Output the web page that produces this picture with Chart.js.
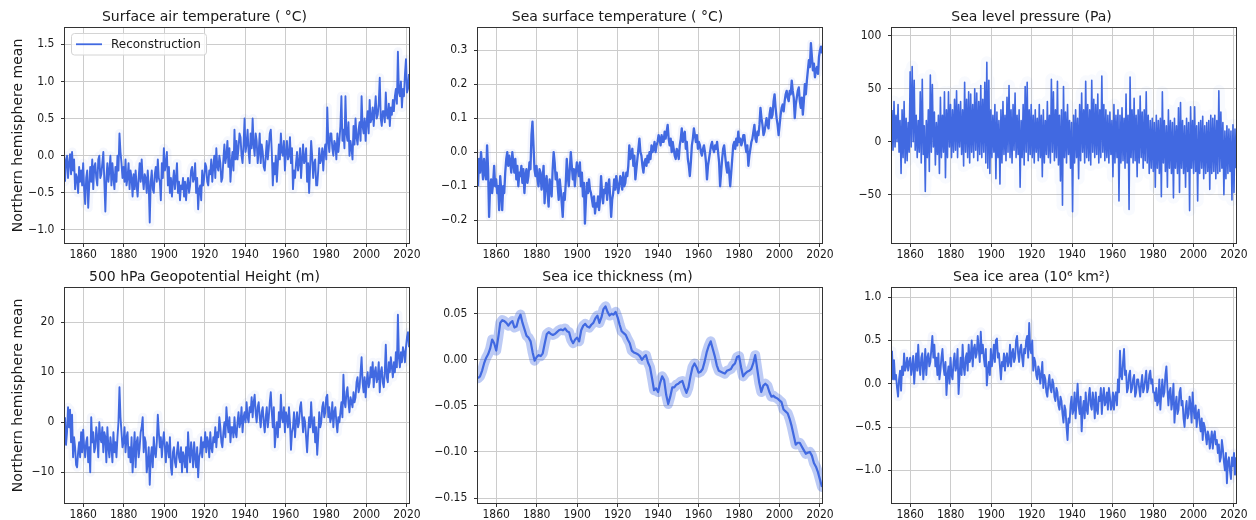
<!DOCTYPE html>
<html>
<head>
<meta charset="utf-8">
<title>Northern hemisphere mean reconstructions</title>
<script src="https://cdn.jsdelivr.net/npm/chart.js@4.4.1/dist/chart.umd.min.js"></script>
<style>
  html, body { margin: 0; padding: 0; background: #ffffff; }
  #figure { position: relative; width: 1256px; height: 520px; overflow: hidden; background: #ffffff; }
  #figure canvas { position: absolute; }
</style>
</head>
<body>
<div id="figure">
  <canvas id="sat"  width="429" height="260" style="left:0px;top:0px"></canvas>
  <canvas id="sst"  width="429" height="260" style="left:413px;top:0px"></canvas>
  <canvas id="slp"  width="429" height="260" style="left:827px;top:0px"></canvas>
  <canvas id="z500" width="429" height="260" style="left:0px;top:260px"></canvas>
  <canvas id="sit"  width="429" height="260" style="left:413px;top:260px"></canvas>
  <canvas id="sia"  width="429" height="260" style="left:827px;top:260px"></canvas>
</div>
<script>
// Time span covered by every series (values are spread evenly over it)
const firstYear = 1851;
const lastYear = 2021;
const yearTicks = [1860, 1880, 1900, 1920, 1940, 1960, 1980, 2000, 2020];

const seriesLabel = 'Reconstruction';
const yAxisLabel = 'Northern hemisphere mean';

// Y tick values per panel
const satTicks = [-1.0, -0.5, 0.0, 0.5, 1.0, 1.5];
const sstTicks = [-0.2, -0.1, 0.0, 0.1, 0.2, 0.3];
const slpTicks = [-50, 0, 50, 100];
const z500Ticks = [-10, 0, 10, 20];
const thicknessTicks = [-0.15, -0.10, -0.05, 0.00, 0.05];
const areaTicks = [-1.0, -0.5, 0.0, 0.5, 1.0];

// Surface air temperature (°C), two values per year, 1851-2021
const surfaceAirTemp = [
  -0.35,-0.05, 0.0,-0.3, -0.1,0.02, -0.25,0.05, -0.2,-0.05, -0.45,-0.25, -0.3,-0.5, -0.15,-0.35, -0.2,-0.4, -0.1,-0.45,
  -0.65,-0.3, -0.2,-0.7, -0.4,-0.15, -0.35,-0.05, -0.45,-0.15, -0.1,-0.3, -0.4,-0.05, 0.0,-0.3, -0.25,-0.1, 0.05,-0.35,
  -0.75,-0.3, -0.1,-0.35, -0.2,0.0, -0.4,-0.1, -0.3,-0.45, -0.15,-0.35, 0.0,-0.2, 0.3,0.05, -0.1,-0.3, -0.15,-0.35,
  -0.05,-0.4, -0.3,-0.1, -0.45,-0.2, -0.3,-0.55, -0.25,-0.45, -0.2,-0.4, -0.55,-0.3, -0.1,-0.35, -0.05,-0.3, -0.45,-0.25,
  -0.3,-0.5, -0.2,-0.4, -0.9,-0.35, -0.2,-0.45, -0.5,-0.25, -0.15,-0.35, -0.05,-0.3, -0.35,-0.6, -0.1,-0.3, 0.1,-0.2,
  -0.1,0.05, -0.4,-0.15, -0.5,-0.3, -0.55,-0.35, -0.2,-0.45, -0.3,-0.1, -0.5,-0.35, -0.6,-0.4, -0.45,-0.3, -0.55,-0.35,
  -0.6,-0.4, -0.3,-0.5, -0.4,-0.2, -0.15,-0.35, -0.3,-0.1, -0.5,-0.3, -0.72,-0.45, -0.4,-0.6, -0.2,-0.4, -0.3,-0.1,
  -0.15,-0.35, -0.4,-0.2, -0.25,-0.05, -0.35,-0.15, 0.0,-0.3, 0.1,-0.15, -0.2,0.0, -0.1,-0.35, -0.3,-0.05, 0.15,-0.1,
  0.0,0.2, -0.15,0.1, -0.35,-0.1, 0.05,-0.2, 0.35,-0.05, 0.2,-0.05, 0.1,0.3, 0.25,0.0, -0.1,0.15, 0.5,0.05,
  0.15,0.35, 0.05,-0.1, 0.3,0.1, 0.5,0.15, 0.0,0.3, 0.2,-0.1, 0.05,0.3, -0.1,0.15, 0.05,-0.15, -0.2,0.0,
  0.2,-0.05, 0.1,0.3, 0.35,0.05, -0.4,-0.1, -0.25,0.0, -0.35,-0.1, 0.15,-0.05, 0.3,0.05, 0.0,0.2, -0.2,0.05,
  0.2,-0.05, 0.0,0.25, -0.1,0.1, -0.45,-0.2, -0.3,-0.1, 0.05,-0.2, -0.1,0.1, -0.3,-0.05, 0.15,-0.1, -0.05,0.1,
  -0.35,-0.1, -0.5,-0.15, 0.2,0.0, -0.3,-0.1, -0.05,-0.4, -0.4,-0.2, 0.1,-0.1, -0.05,0.1, -0.2,0.05, 0.15,-0.05,
  0.65,0.2, 0.05,0.3, 0.3,0.1, 0.0,0.2, 0.15,-0.05, 0.3,0.05, 0.2,0.4, 0.8,0.2, 0.35,0.1, 0.8,0.3,
  0.2,0.45, 0.0,0.2, 0.1,-0.05, 0.4,0.15, 0.5,0.25, 0.15,0.35, 0.45,0.2, 0.8,0.4, 0.3,0.5, 0.2,0.45,
  0.6,0.3, 0.75,0.45, 0.5,0.65, 0.4,0.6, 0.8,0.5, 0.55,0.7, 1.05,0.5, 0.4,0.6, 0.6,0.45, 0.85,0.55,
  0.5,0.7, 0.4,0.65, 0.55,0.75, 0.6,0.8, 0.9,0.7, 1.4,0.85, 0.8,1.0, 0.65,0.9, 0.8,1.1, 1.3,0.85,
  0.9,1.1
];

// Sea surface temperature (°C), two values per year
const seaSurfaceTemp = [
  -0.10,-0.02, -0.06,0.00, -0.04,-0.08, -0.02,-0.06, -0.08,0.02, -0.05,-0.19, -0.10,-0.08, -0.12,-0.09, -0.04,-0.10, -0.08,-0.12,
  -0.10,-0.17, -0.07,-0.11, -0.17,-0.10, -0.12,-0.06, -0.02,0.00, -0.04,-0.01, -0.03,-0.06, 0.00,-0.03, -0.06,-0.02, -0.08,-0.04,
  -0.10,-0.06, -0.07,-0.04, -0.09,-0.05, -0.12,-0.07, -0.05,-0.09, -0.07,-0.03, -0.05,0.05, 0.09,0.02, -0.05,-0.07, -0.04,-0.08,
  -0.10,-0.05, -0.06,-0.11, -0.08,-0.04, -0.15,-0.09, -0.07,-0.12, -0.16,-0.08, -0.10,-0.13, -0.05,0.00, -0.03,-0.08, -0.06,-0.10,
  -0.14,-0.08, -0.11,-0.15, -0.19,-0.12, -0.14,-0.09, -0.02,-0.07, -0.10,-0.05, 0.00,-0.04, -0.08,-0.05, -0.10,-0.06, -0.03,-0.05,
  -0.07,-0.03, -0.10,-0.06, -0.13,-0.09, -0.21,-0.14, -0.09,-0.12, -0.08,-0.11, -0.12,-0.14, -0.16,-0.13, -0.18,-0.15, -0.16,-0.13,
  -0.17,-0.14, -0.07,-0.12, -0.15,-0.11, -0.12,-0.09, -0.14,-0.10, -0.08,-0.13, -0.19,-0.14, -0.12,-0.08, -0.11,-0.07, -0.09,-0.12,
  -0.10,-0.07, -0.08,-0.11, -0.06,-0.10, -0.09,-0.06, -0.07,-0.04, 0.02,-0.02, -0.01,0.01, -0.04,-0.01, -0.08,-0.05, -0.02,0.01,
  0.04,0.00, -0.01,-0.04, -0.06,-0.03, -0.02,-0.04, -0.01,-0.03, 0.00,-0.02, 0.02,0.00, 0.01,0.03, 0.00,0.02, 0.03,0.05,
  0.04,0.02, 0.05,0.03, 0.03,0.06, 0.04,0.06, 0.08,0.04, 0.02,0.04, 0.00,0.03, 0.01,-0.01, -0.02,0.01, 0.00,-0.02,
  0.02,0.04, 0.07,0.03, 0.05,0.06, 0.01,0.03, -0.02,-0.04, -0.07,-0.03, 0.02,0.04, 0.07,0.05, 0.03,0.05, 0.01,0.03,
  0.02,0.00, -0.01,0.01, 0.02,0.00, -0.03,-0.08, -0.04,-0.02, 0.00,0.02, 0.03,0.01, 0.00,0.02, 0.01,0.03, 0.00,-0.03,
  -0.10,-0.06, -0.02,0.01, 0.02,-0.01, -0.04,-0.06, -0.03,-0.06, -0.10,-0.06, -0.02,0.02, 0.03,0.01, 0.04,0.02, 0.06,0.03,
  0.04,0.02, 0.03,0.05, 0.05,0.02, 0.00,0.02, -0.04,-0.01, 0.01,0.03, 0.04,0.06, 0.08,0.04, 0.03,0.06, 0.05,0.08,
  0.13,0.10, 0.08,0.05, 0.06,0.08, 0.10,0.08, 0.07,0.11, 0.13,0.10, 0.11,0.15, 0.17,0.13, 0.10,0.08, 0.05,0.08,
  0.11,0.13, 0.14,0.12, 0.15,0.17, 0.18,0.16, 0.15,0.18, 0.17,0.21, 0.18,0.16, 0.10,0.14, 0.16,0.18, 0.19,0.15,
  0.13,0.16, 0.11,0.15, 0.20,0.17, 0.21,0.24, 0.27,0.25, 0.32,0.28, 0.24,0.26, 0.22,0.24, 0.25,0.23, 0.28,0.30,
  0.31,0.29
];

// Sea level pressure (Pa), two values per year
const seaLevelPressure = [
  30,-8, 38,-5, 25,0, 35,-10, 20,-30, 30,-15, 38,-20, 22,-18, 18,-10, 66,-5,
  71,0, 58,-8, 25,-15, 20,-10, 47,-20, 59,-12, 15,-47, 20,-15, 30,-28, 63,-10,
  54,-5, 28,-22, 18,-12, 25,-30, 42,-15, 25,-10, 47,-34, 30,-15, 47,-5, 35,-15,
  30,-10, 40,-8, 48,-15, 35,-5, 38,-12, 30,-23, 56,-10, 40,-15, 47,-20, 45,-10,
  35,-15, 50,-8, 46,-18, 38,-12, 53,-15, 40,-10, 56,-20, 75,-25, 58,-30, 30,-15,
  25,-10, 35,-35, 28,-15, 20,-40, 30,-20, 38,-12, 25,-18, 42,-10, 53,-15, 30,-20,
  35,-8, 46,-15, 25,-12, 30,-43, 20,-15, 35,-22, 52,-10, 56,-18, 30,-12, 35,-15,
  25,-20, 30,-10, 22,-18, 35,-15, 25,-33, 30,-20, 20,-12, 38,-15, 25,-20, 59,-10,
  47,-18, 30,-15, 57,-22, 25,-37, 30,-60, 52,-15, 28,-20, 35,-12, 20,-25, 18,-66,
  25,-20, 30,-15, 22,-35, 35,-18, 46,-10, 30,-20, 57,-15, 35,-18, 30,-22, 58,-10,
  40,-15, 35,-12, 45,-20, 30,-15, 62,-10, 35,-18, 30,-15, 25,-20, 28,-12, 20,-33,
  35,-20, 25,-15, 30,-56, 25,-20, 32,-18, 22,-25, 45,-20, 25,-64, 61,-15, 30,-20,
  41,-18, 25,-33, 30,-20, 43,-15, 28,-25, 30,-18, 47,-20, 25,-30, 20,-25, 22,-28,
  18,-43, 25,-25, 20,-30, 22,-52, 47,-20, 20,-28, 15,-43, 30,-25, 20,-30, 18,-53,
  22,-25, 15,-30, 32,-48, 37,-25, 20,-30, 15,-43, 22,-28, 18,-65, 33,-25, 20,-30,
  33,-28, 15,-56, 18,-30, 20,-25, 24,-35, 15,-30, 18,-28, 20,-45, 25,-30, 22,-28,
  25,-35, 20,-30, 48,-28, 28,-25, 18,-50, 10,-35, 15,-30, 12,-28, 10,-55, 16,-48,
  12,-25
];

// 500 hPa geopotential height (m), two values per year
const geopotential500 = [
  1,-4.5, -2,3, -1,2.5, -4,1.5, -7,-3, -5,-8.5, -9,-6, -4,-7, -2,-6, -1.5,-5,
  -7,-4, -3,-8, -5,-10, 1,-4, -2,-6, -5,-1, -3,-7, 0,-3, -4,-1, -6,-2,
  -3,-8, -1,-5, -7,-3, -5,-8, -2,-6, -4,-7, -3,0, 7,1, -2,-5, -4,-1,
  -6,-3, -2,-7, -5,-8, -3,-10, -6,-2, -9,-4, -3,-7, -5,-2, -1,1, -6,-3,
  -4,-10, -8,-5, -12.5,-7, -5,-9, -3,-6, -7,-4, 1.5,-2, -5,-3, -7,-4, -2,-5,
  -8,-4, -5,-7, -3,-9, -10.5,-6, -5,-8, -9,-6, -4,-7, -8,-5, -10,-6, -7,-9,
  -5,-10, -2,-6, -8,-4, -6,-9, -4,-7, -9,-5, -11,-7, -6,-3, -7,-4, -5,-2,
  -6,-3, -4,-7, -2,-5, -6,-3, -4,-1, -5,-2, -3,1, -1,-4, -5,-2, 0,-3,
  3,0, -2,1, -4,-1, -1,-3, 1,-2, -3,0, 2,-1, 0,3, -2,1, 2,0,
  4,1, 0,3, 2,5, 1,4, 5.5,2, 0,3, 4,1, -1,2, 3,0, -2,1,
  3,-1, 1,4, 6,2, -1,3, -5,-2, 0,-3, 2,-1, 5.5,1, 0,3, -2,2,
  1,-1, 3,0, -5.5,-2, -1,2, -3,0, 2,-1, 0,3, 4,1, -2,1, 0,-3,
  -6,-2, 1,-1, 4,0, -2,1, -4,-1, -6.5,-3, 2,-1, 0,3, 4,1, 2,5,
  5.5,1, 3,0, 1,4, -1,2, 3,0, -2,1, 0,2, 4,1, 9.5,4, 3,6,
  7,4, 2,5, 4,3, 6,4, 5,8, 9,6, 7,10, 13,8, 6,9, 5,8,
  10,7, 8,11, 9,12, 7,10, 11,8, 9,12, 6,10, 11,8, 7,10, 15.5,9,
  8,12, 10,13, 11,9, 12,10, 14,11, 21.5,13, 11,14, 12,15, 14,12, 15,17,
  18,15
];

// Sea ice thickness (m), one value per year
const seaIceThickness = [
  -0.020, -0.018, -0.012, -0.004, 0.002, 0.006, 0.012, 0.022, 0.018, 0.010,
  0.024, 0.040, 0.043, 0.042, 0.040, 0.037, 0.040, 0.042, 0.035, 0.036,
  0.044, 0.049, 0.040, 0.033, 0.026, 0.024, 0.020, 0.008, -0.001, 0.003,
  0.005, 0.004, 0.007, 0.018, 0.028, 0.030, 0.028, 0.027, 0.028, 0.030,
  0.032, 0.033, 0.032, 0.034, 0.031, 0.030, 0.022, 0.018, 0.022, 0.024,
  0.020, 0.032, 0.037, 0.039, 0.036, 0.035, 0.038, 0.040, 0.045, 0.048,
  0.040, 0.046, 0.055, 0.058, 0.052, 0.048, 0.050, 0.049, 0.052, 0.046,
  0.038, 0.031, 0.029, 0.027, 0.022, 0.018, 0.010, 0.008, 0.007, 0.006,
  0.004, 0.000, 0.003, 0.005, -0.003, -0.008, -0.020, -0.033, -0.031, -0.035,
  -0.025, -0.018, -0.022, -0.038, -0.048, -0.040, -0.030, -0.030, -0.027, -0.026,
  -0.024, -0.023, -0.030, -0.036, -0.030, -0.018, -0.008, -0.004, -0.008, -0.014,
  -0.013, -0.010, -0.002, 0.008, 0.015, 0.020, 0.012, 0.004, -0.006, -0.012,
  -0.013, -0.014, -0.015, -0.012, -0.011, -0.010, -0.006, -0.004, 0.003, 0.004,
  -0.008, -0.018, -0.015, -0.013, -0.012, -0.010, -0.004, 0.005, -0.010, -0.025,
  -0.035, -0.028, -0.026, -0.028, -0.035, -0.040, -0.039, -0.041, -0.042, -0.044,
  -0.046, -0.054, -0.056, -0.058, -0.064, -0.072, -0.082, -0.092, -0.090, -0.090,
  -0.094, -0.098, -0.102, -0.101, -0.100, -0.104, -0.112, -0.116, -0.122, -0.130,
  -0.138
];

// Sea ice area (10^6 km^2), two values per year
const seaIceArea = [
  0.38,0.05, 0.27,0.05, 0.1,-0.05, -0.15,0.05, 0.15,-0.08, 0.2,0.1, 0.35,0.15, 0.2,0.3, 0.15,0.25, 0.3,0.1,
  0.2,0.32, 0.0,0.2, 0.35,0.15, 0.45,0.2, 0.1,0.3, 0.35,0.05, 0.2,0.4, 0.1,0.3, 0.35,0.2, 0.25,0.4,
  0.55,0.3, 0.45,0.2, 0.3,0.1, 0.35,0.05, 0.15,0.3, 0.4,0.2, 0.1,0.25, -0.13,0.1, 0.2,0.0, 0.3,0.1,
  0.05,0.25, 0.35,0.15, 0.2,0.4, -0.12,0.1, 0.3,0.1, 0.45,0.2, 0.1,0.3, 0.35,0.15, 0.45,0.25, 0.3,0.5,
  0.2,0.4, 0.45,0.3, 0.35,0.55, 0.4,0.25, 0.6,0.35, 0.45,0.3, 0.2,0.4, -0.02,0.15, 0.25,0.1, 0.4,0.2,
  0.3,0.45, 0.25,0.5, 0.52,0.3, 0.35,0.2, 0.05,0.25, 0.2,0.35, 0.15,0.3, 0.35,0.2, 0.25,0.45, 0.2,0.35,
  0.4,0.25, 0.3,0.5, 0.55,0.35, 0.25,0.4, 0.45,0.3, 0.2,0.4, 0.35,0.5, 0.55,0.3, 0.7,0.4, 0.35,0.5,
  0.15,0.3, 0.25,0.1, 0.05,0.2, 0.15,0.0, 0.1,0.25, -0.05,0.1, 0.05,-0.1, -0.15,0.0, 0.1,-0.05, -0.1,0.05,
  0.0,-0.15, -0.2,-0.05, -0.1,-0.25, -0.3,-0.15, -0.2,-0.35, -0.45,-0.25, -0.3,-0.5, -0.65,-0.4, -0.45,-0.25, -0.15,-0.35,
  -0.3,-0.1, -0.4,-0.2, 0.0,-0.25, -0.35,-0.15, -0.55,-0.3, -0.2,-0.4, -0.1,-0.3, -0.35,-0.15, -0.05,-0.25, -0.3,-0.1,
  -0.2,-0.4, -0.1,-0.3, -0.35,-0.15, -0.2,-0.05, -0.35,-0.15, -0.05,-0.25, -0.2,-0.1, -0.3,-0.05, -0.15,-0.3, -0.25,-0.1,
  -0.3,-0.15, -0.1,-0.25, 0.05,-0.1, 0.38,0.1, 0.05,0.25, 0.4,0.1, 0.15,-0.1, -0.05,0.1, 0.15,-0.1, -0.05,0.05,
  0.1,-0.15, -0.1,0.05, 0.05,-0.05, -0.15,0.0, 0.1,-0.1, -0.05,0.05, 0.15,-0.1, -0.05,0.1, 0.15,0.0, 0.05,-0.1,
  -0.1,-0.2, -0.05,-0.25, -0.2,0.05, -0.3,-0.1, 0.05,-0.15, -0.1,0.1, 0.2,-0.05, -0.25,-0.1, -0.05,-0.3, -0.2,0.0,
  -0.45,-0.25, -0.15,-0.35, -0.3,-0.1, -0.05,-0.25, -0.2,-0.4, -0.5,-0.3, -0.2,-0.4, -0.35,-0.15, -0.25,-0.45, -0.1,-0.3,
  -0.4,-0.25, -0.5,-0.35, -0.3,-0.45, -0.55,-0.4, -0.65,-0.45, -0.5,-0.6, -0.7,-0.55, -0.6,-0.75, -0.65,-0.55, -0.75,-0.6,
  -0.55,-0.7, -0.65,-0.8, -0.7,-0.9, -0.85,-0.65, -0.75,-0.9, -1.0,-0.8, -1.15,-0.9, -0.85,-1.0, -1.1,-0.85, -0.95,-0.8,
  -1.05,-0.85
];

// ---- styling ----
const lineColor = '#4169e1';
const gridColor = '#cccccc';
const textColor = '#1a1a1a';
const tickFont = { family: "'Liberation Sans Narrow', 'DejaVu Sans Condensed', 'DejaVu Sans'", size: 12 };
const labelFont = { family: "'DejaVu Sans'", size: 14, weight: 'normal' };

Chart.defaults.font.family = "'DejaVu Sans'";

function tickText(v, decimals) {
  const s = Math.abs(v).toFixed(decimals);
  return (v < 0 ? '\u2212' : '') + s;
}

function toPoints(values) {
  const step = (lastYear - firstYear) / (values.length - 1);
  return values.map((v, i) => ({ x: firstYear + i * step, y: v }));
}

// Full box around each plotting area
const axesFrame = {
  id: 'axesFrame',
  afterDraw(chart) {
    const { ctx, chartArea: a } = chart;
    ctx.save();
    ctx.strokeStyle = '#333333';
    ctx.lineWidth = 1;
    ctx.strokeRect(a.left - 0.5, a.top - 0.5, a.right - a.left + 1, a.bottom - a.top + 1);
    ctx.restore();
  }
};

// Framed legend in the upper-left corner of the plotting area
const legendBox = {
  id: 'legendBox',
  afterDraw(chart) {
    const { ctx, chartArea: a } = chart;
    const ds = chart.data.datasets[0];
    const x = a.left + 6.5, y = a.top + 5.5, w = 135, h = 21.5;
    ctx.save();
    ctx.beginPath();
    ctx.roundRect(x, y, w, h, 3);
    ctx.fillStyle = 'rgba(255,255,255,0.8)';
    ctx.fill();
    ctx.strokeStyle = '#d4d4d4';
    ctx.lineWidth = 1;
    ctx.stroke();
    ctx.beginPath();
    ctx.moveTo(x + 4.5, y + h / 2);
    ctx.lineTo(x + 30.5, y + h / 2);
    ctx.strokeStyle = ds.borderColor;
    ctx.lineWidth = 1.8;
    ctx.stroke();
    ctx.font = "12px 'DejaVu Sans'";
    ctx.fillStyle = textColor;
    ctx.textBaseline = 'middle';
    ctx.textAlign = 'left';
    ctx.fillText(ds.label, x + 39.5, y + h / 2 + 0.5);
    ctx.restore();
  }
};

const panels = [
  { id: 'sat',  title: 'Surface air temperature ( \u00b0C)', values: surfaceAirTemp,   yMin: -1.175, yMax: 1.719,  yTicks: satTicks,       decimals: 1, lineWidth: 1.9, bandWidth: 9,  bandAlpha: 0.05, yLabel: true,  legend: true },
  { id: 'sst',  title: 'Sea surface temperature ( \u00b0C)', values: seaSurfaceTemp,   yMin: -0.2666, yMax: 0.3646, yTicks: sstTicks,      decimals: 1, lineWidth: 2.3, bandWidth: 7,  bandAlpha: 0.07 },
  { id: 'slp',  title: 'Sea level pressure (Pa)',            values: seaLevelPressure, yMin: -95.6,  yMax: 107.3,  yTicks: slpTicks,       decimals: 0, lineWidth: 1.6, bandWidth: 12, bandAlpha: 0.035 },
  { id: 'z500', title: '500 hPa Geopotential Height (m)',    values: geopotential500,  yMin: -16.14, yMax: 26.86,  yTicks: z500Ticks,      decimals: 0, lineWidth: 1.9, bandWidth: 9,  bandAlpha: 0.05, yLabel: true },
  { id: 'sit',  title: 'Sea ice thickness (m)',              values: seaIceThickness,  yMin: -0.1554, yMax: 0.0779, yTicks: thicknessTicks, decimals: 2, lineWidth: 2.2, bandWidth: 10, bandAlpha: 0.35 },
  { id: 'sia',  title: 'Sea ice area (10\u2076 km\u00b2)',   values: seaIceArea,       yMin: -1.377, yMax: 1.104,  yTicks: areaTicks,      decimals: 1, lineWidth: 1.9, bandWidth: 9,  bandAlpha: 0.06 }
];

function gridOptions() {
  return { color: gridColor, lineWidth: 1, drawTicks: true, tickLength: 4, tickColor: '#333333', tickWidth: 1 };
}

function drawPanel(p) {
  const pts = toPoints(p.values);
  const plugins = [axesFrame];
  if (p.legend) plugins.push(legendBox);
  new Chart(document.getElementById(p.id), {
    type: 'line',
    data: {
      datasets: [
        { label: seriesLabel, data: pts, borderColor: lineColor, borderWidth: p.lineWidth, borderJoinStyle: 'round',
          pointRadius: 0, tension: 0, clip: 0, order: 0, fill: false },
        { label: 'spread', data: pts, borderColor: `rgba(65,105,225,${p.bandAlpha})`, borderWidth: p.bandWidth,
          borderJoinStyle: 'round', borderCapStyle: 'round', pointRadius: 0, tension: 0, clip: 0, order: 1, fill: false }
      ]
    },
    options: {
      responsive: false,
      animation: false,
      parsing: false,
      normalized: true,
      events: [],
      layout: { padding: { left: 0, right: 20, top: 0, bottom: 0 } },
      plugins: {
        legend: { display: false },
        tooltip: { enabled: false },
        title: { display: true, text: p.title, color: textColor, font: labelFont, padding: { top: 9.4, bottom: 1.8 } }
      },
      scales: {
        x: {
          type: 'linear', min: firstYear, max: lastYear,
          afterBuildTicks: a => { a.ticks = yearTicks.map(v => ({ value: v })); },
          afterFit: a => { a.height = 17; },
          ticks: { font: tickFont, color: textColor, padding: 0.5, maxRotation: 0, autoSkip: false, callback: v => String(v) },
          grid: gridOptions(),
          border: { display: false }
        },
        y: {
          type: 'linear', min: p.yMin, max: p.yMax,
          afterBuildTicks: a => { a.ticks = p.yTicks.map(v => ({ value: v })); },
          afterFit: a => { a.width = 65; },
          ticks: { font: tickFont, color: textColor, padding: 6.7, autoSkip: false, callback: v => tickText(v, p.decimals) },
          grid: gridOptions(),
          border: { display: false },
          title: { display: !!p.yLabel, text: yAxisLabel, color: textColor, font: labelFont, padding: { top: 10.3, bottom: 0 } }
        }
      }
    },
    plugins
  });
}

panels.forEach(drawPanel);
</script>
</body>
</html>
